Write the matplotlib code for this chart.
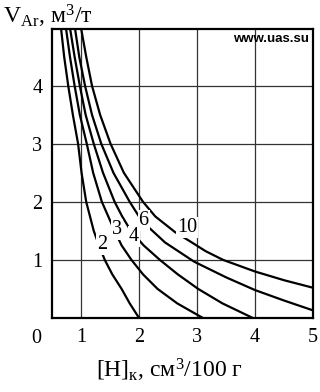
import matplotlib
matplotlib.use('Agg')
import matplotlib.pyplot as plt

plt.rcParams['font.family'] = ['Liberation Serif', 'DejaVu Serif']
plt.rcParams['mathtext.fontset'] = 'custom'
plt.rcParams['mathtext.rm'] = 'Liberation Serif'
plt.rcParams['mathtext.it'] = 'Liberation Serif:italic'

# curves: [H]k (x) and V_Ar (y), label = initial [H]
curve_labels = ['2', '3', '4', '6', '10']
h_2 = [0.655, 0.71, 0.78, 0.86, 0.95, 1.01, 1.09, 1.22, 1.31, 1.41, 1.54, 1.70, 1.84, 2.0]
v_2 = [5.0, 4.5, 4.0, 3.5, 3.0, 2.5, 2.0, 1.5, 1.25, 1.0, 0.75, 0.5, 0.25, 0.0]
h_3 = [0.74, 0.81, 0.89, 0.98, 1.10, 1.21, 1.36, 1.58, 1.70, 1.87, 2.07, 2.32, 2.66, 3.1]
v_3 = [5.0, 4.5, 4.0, 3.5, 3.0, 2.5, 2.0, 1.5, 1.25, 1.0, 0.75, 0.5, 0.25, 0.0]
h_4 = [0.81, 0.89, 0.98, 1.08, 1.22, 1.38, 1.58, 1.71, 1.86, 2.08, 2.36, 2.67, 3.02, 3.44, 3.96]
v_4 = [5.0, 4.5, 4.0, 3.5, 3.0, 2.5, 2.0, 1.75, 1.5, 1.25, 1.0, 0.75, 0.5, 0.25, 0.0]
h_6 = [0.895, 0.97, 1.07, 1.19, 1.35, 1.56, 1.84, 2.05, 2.45, 2.95, 3.5, 4.0, 4.5, 5.0]
v_6 = [5.0, 4.5, 4.0, 3.5, 3.0, 2.5, 2.0, 1.67, 1.3, 0.97, 0.7, 0.48, 0.3, 0.13]
h_10 = [1.0, 1.09, 1.19, 1.33, 1.51, 1.74, 2.07, 2.28, 2.62, 2.88, 3.15, 3.45, 4.0, 4.5, 5.0]
v_10 = [5.0, 4.5, 4.0, 3.5, 3.0, 2.5, 2.0, 1.75, 1.48, 1.32, 1.15, 1.0, 0.8, 0.65, 0.52]

# label positions
lab_h = [1.36, 1.62, 1.91, 2.08, 2.83]
lab_v = [1.27, 1.53, 1.40, 1.68, 1.55]

xs = [h_2, h_3, h_4, h_6, h_10]
ys = [v_2, v_3, v_4, v_6, v_10]

fig = plt.figure(figsize=(3.2, 3.92), dpi=100)
ax = fig.add_axes([0.1625, 0.189, 0.8156, 0.737])

for h, v in zip(xs, ys):
    ax.plot(h, v, color='black', lw=1.6, solid_joinstyle='round', zorder=3)

for lab, x, y in zip(curve_labels, lab_h, lab_v):
    ax.text(x, y, lab, fontsize=14.5, ha='center', va='center', zorder=5,
            bbox=dict(boxstyle='square,pad=0.05', fc='white', ec='none'))

ax.set_xlim(0.5, 5)
ax.set_ylim(0, 4.98)
ax.set_xticks([1, 2, 3, 4, 5])
ax.set_yticks([1, 2, 3, 4])
ax.tick_params(length=0, labelsize=14.5, pad=7)
ax.grid(True, color='#333333', lw=0.9)
for s in ax.spines.values():
    s.set_linewidth(1.6)
    s.set_zorder(6)

ax.text(-0.04, -0.04, '0', transform=ax.transAxes, fontsize=14.5, ha='right', va='top')

ax.text(0.985, 0.985, 'www.uas.su', transform=ax.transAxes, fontsize=9.5,
        fontweight='bold', family='Liberation Sans', ha='right', va='top', zorder=7)

fig.text(0.008, 0.992, r'V$_{\mathrm{Ar}}$, м$^3$/т', fontsize=17, ha='left', va='top')
fig.text(0.53, 0.02, r'[H]$_{\mathrm{к}}$, см$^3$/100 г', fontsize=17, ha='center', va='bottom')

fig.savefig('out.png', dpi=100)
